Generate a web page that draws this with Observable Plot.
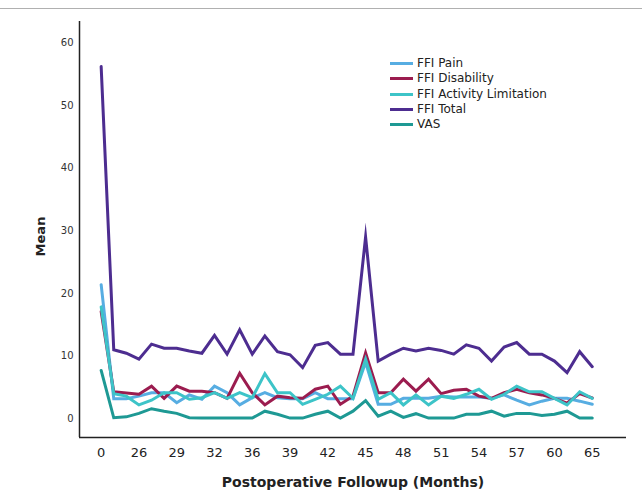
<!DOCTYPE html>
<html><head><meta charset="utf-8">
<script src="https://cdn.jsdelivr.net/npm/d3@7"></script>
<script src="https://cdn.jsdelivr.net/npm/@observablehq/plot@0.6"></script>
<style>
body{margin:0;background:#fff;font-family:"DejaVu Sans",sans-serif;}
#wrap{position:relative;width:642px;height:501px;overflow:hidden;}
#topline{position:absolute;left:0;top:8px;width:642px;border-top:1px solid #b0b0b0;}
#legend{position:absolute;left:390px;top:56px;font-size:12px;color:#222;line-height:15.3px;}
.row{display:flex;align-items:center;height:15.3px;}
.sw{width:23px;height:3px;margin-right:4px;}
</style></head><body>
<div id="wrap"><div id="chart"></div><div id="topline"></div><div id="legend"></div></div>
<script>
const months = [0,24,25,26,27,28,29,30,31,32,33,34,36,37,38,39,40,41,42,43,44,45,46,47,48,49,50,51,52,53,54,55,56,57,58,59,60,61,63,65];
const tickIdx = [0,3,6,9,12,15,18,21,24,27,30,33,36,39];
const seriesNames = ["FFI Pain","FFI Disability","FFI Activity Limitation","FFI Total","VAS"];
const seriesColors = ["#57ade2","#9b1c4f","#3dc4c8","#4d2d90","#1e9994"];
const pain = [21.4,3.2,3.2,3.6,4.15,4.15,2.55,3.8,3.1,5.2,4.15,2.2,3.35,4.15,3.35,3.2,3.2,4.15,3.2,3.2,3.2,9.0,2.3,2.3,3.25,3.25,3.25,3.6,3.45,3.45,3.45,3.25,3.8,2.95,2.2,2.8,3.25,3.25,2.8,2.3];
const disability = [17.1,4.3,4.1,3.9,5.2,3.25,5.2,4.4,4.4,4.15,3.25,7.25,4.15,2.2,3.6,3.35,3.25,4.7,5.2,2.3,3.6,10.5,4.15,4.15,6.3,4.4,6.3,4.0,4.55,4.7,3.6,3.25,4.15,4.7,4.15,3.8,3.25,2.5,4.0,3.3];
const activity = [17.85,4.0,3.6,2.2,2.95,4.15,4.15,3.1,3.35,4.15,3.25,4.15,3.35,7.2,4.15,4.15,2.3,3.1,3.9,5.2,3.25,9.5,3.1,4.15,2.2,3.8,2.2,3.6,3.25,3.9,4.7,3.1,3.9,5.2,4.3,4.3,3.25,2.2,4.3,3.25];
const total = [56.2,11.0,10.45,9.5,11.9,11.25,11.25,10.8,10.45,13.3,10.3,14.2,10.3,13.2,10.7,10.2,8.15,11.7,12.15,10.3,10.3,29,9.2,10.3,11.25,10.8,11.25,10.9,10.3,11.8,11.25,9.2,11.45,12.15,10.3,10.3,9.2,7.35,10.7,8.3];
const vas = [7.7,0.15,0.3,0.85,1.6,1.2,0.85,0.15,0.1,0.1,0.1,0.1,0.1,1.2,0.7,0.1,0.1,0.7,1.2,0.1,1.2,2.9,0.4,1.2,0.2,0.8,0.1,0.1,0.1,0.7,0.7,1.2,0.4,0.85,0.85,0.5,0.7,1.2,0.1,0.1];
const yTicks = [0,10,20,30,40,50,60];

const seriesValues = [pain, disability, activity, total, vas];
const data = [];
seriesValues.forEach((vals, s) => vals.forEach((v, i) => data.push({i, month: months[i], value: v, series: seriesNames[s]})));

const xDom = [-1.72, 41.72];
const yDom = [-3, 63.4];

const chart = Plot.plot({
  width: 642, height: 501,
  marginLeft: 79, marginRight: 16, marginTop: 21, marginBottom: 64,
  style: {fontFamily: "DejaVu Sans, sans-serif", color: "#222", background: "#fff"},
  x: {type: "linear", domain: xDom},
  y: {domain: yDom},
  color: {domain: seriesNames, range: seriesColors},
  marks: [
    Plot.axisY({ticks: yTicks, tickSize: 0, tickPadding: 6, fontSize: 10, label: null, fill: "#333"}),
    Plot.axisX({ticks: tickIdx, tickSize: 0, tickPadding: 10, fontSize: 13, label: null, tickFormat: i => months[i], fill: "#222"}),
    Plot.line(data, {x: "i", y: "value", z: "series", stroke: "series", strokeWidth: 3, strokeLinejoin: "miter", strokeMiterlimit: 10}),
    Plot.ruleX([xDom[0]], {stroke: "#222", strokeWidth: 1.5}),
    Plot.ruleY([yDom[0]], {stroke: "#222", strokeWidth: 1.5}),
    Plot.text(["Mean"], {frameAnchor: "left", textAnchor: "middle", dx: -39, dy: 7, rotate: -90, fontWeight: "bold", fontSize: 13, fill: "#222"}),
    Plot.text(["Postoperative Followup (Months)"], {frameAnchor: "bottom", dy: 49, fontWeight: "bold", fontSize: 14, fill: "#222"})
  ]
});
document.getElementById("chart").appendChild(chart);

const lg = document.getElementById("legend");
seriesNames.forEach((n, k) => {
  const r = document.createElement("div"); r.className = "row";
  const sw = document.createElement("span"); sw.className = "sw"; sw.style.background = seriesColors[k];
  const t = document.createElement("span"); t.textContent = n;
  r.appendChild(sw); r.appendChild(t); lg.appendChild(r);
});
</script>
</body></html>
